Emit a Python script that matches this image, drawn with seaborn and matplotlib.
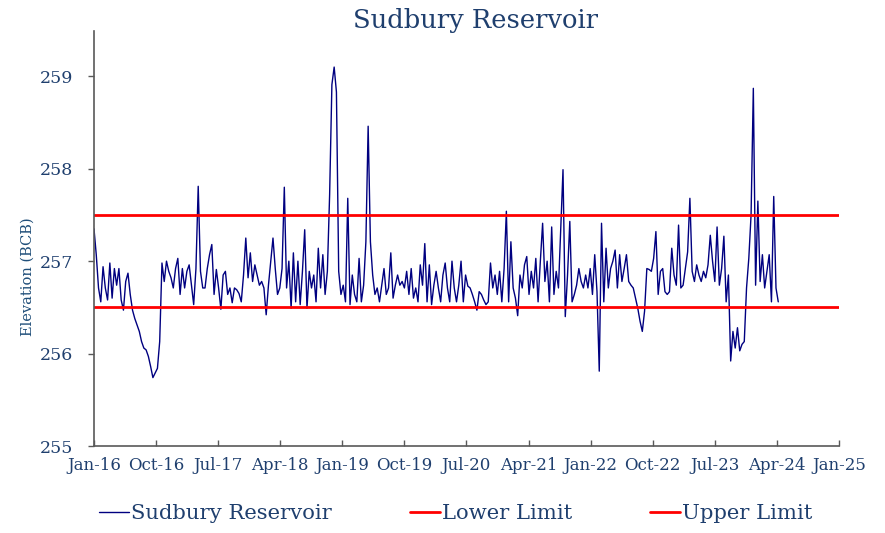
import numpy as np
import pandas as pd
import matplotlib
matplotlib.use("Agg")
import matplotlib.pyplot as plt
import seaborn as sns

# ── Data (one value every 10 days from Jan-16) ─────────────────────────────────
start_date = "2016-01-01"
elev = [
    257.35, 257.07, 256.71, 256.56, 256.94, 256.71, 256.58, 256.98, 256.60, 256.92,
    256.74, 256.92, 256.58, 256.47, 256.78, 256.87, 256.64, 256.47, 256.38, 256.31,
    256.24, 256.13, 256.06, 256.04, 255.97, 255.86, 255.74, 255.79, 255.84, 256.13,
    256.98, 256.78, 257.00, 256.89, 256.82, 256.71, 256.92, 257.03, 256.64, 256.92,
    256.71, 256.89, 256.96, 256.74, 256.53, 256.92, 257.81, 256.89, 256.71, 256.71,
    256.92, 257.07, 257.18, 256.64, 256.91, 256.71, 256.48, 256.85, 256.89, 256.64,
    256.71, 256.55, 256.71, 256.69, 256.65, 256.56, 256.85, 257.25, 256.82, 257.09,
    256.78, 256.96, 256.85, 256.74, 256.78, 256.71, 256.42, 256.74, 257.00, 257.25,
    256.92, 256.64, 256.71, 256.92, 257.80, 256.71, 257.00, 256.49, 257.09, 256.56,
    257.00, 256.53, 256.89, 257.34, 256.49, 256.89, 256.71, 256.85, 256.56, 257.14,
    256.71, 257.07, 256.64, 256.89, 257.72, 258.91, 259.10, 258.83, 256.89, 256.64,
    256.74, 256.56, 257.68, 256.53, 256.85, 256.64, 256.56, 257.03, 256.56, 256.74,
    257.21, 258.46, 257.21, 256.85, 256.64, 256.71, 256.56, 256.74, 256.92, 256.64,
    256.71, 257.09, 256.60, 256.74, 256.85, 256.74, 256.78, 256.71, 256.89, 256.64,
    256.92, 256.60, 256.71, 256.56, 256.96, 256.74, 257.19, 256.56, 256.96, 256.53,
    256.74, 256.89, 256.71, 256.56, 256.85, 256.98, 256.71, 256.56, 257.00, 256.71,
    256.56, 256.74, 257.00, 256.56, 256.85, 256.73, 256.71, 256.64, 256.56, 256.47,
    256.67, 256.64, 256.58, 256.53, 256.56, 256.98, 256.71, 256.85, 256.64, 256.89,
    256.56, 256.92, 257.54, 256.56, 257.21, 256.71, 256.60, 256.41, 256.85, 256.71,
    256.96, 257.05, 256.64, 256.89, 256.71, 257.03, 256.56, 257.00, 257.41, 256.78,
    257.00, 256.56, 257.37, 256.64, 256.89, 256.71, 257.36, 257.99, 256.40, 256.85,
    257.43, 256.56, 256.64, 256.74, 256.92, 256.78, 256.71, 256.85, 256.71, 256.92,
    256.64, 257.07, 256.67, 255.81, 257.41, 256.56, 257.14, 256.71, 256.92, 257.00,
    257.12, 256.71, 257.07, 256.78, 256.92, 257.07, 256.78, 256.74, 256.71, 256.60,
    256.49, 256.35, 256.24, 256.46, 256.92, 256.91, 256.89, 257.03, 257.32, 256.64,
    256.89, 256.92, 256.67, 256.64, 256.67, 257.14, 256.85, 256.74, 257.39, 256.71,
    256.74, 256.92, 257.10, 257.68, 256.89, 256.78, 256.96, 256.85, 256.78, 256.89,
    256.82, 256.96, 257.28, 257.00, 256.78, 257.37, 256.74, 256.92, 257.27, 256.56,
    256.85, 255.92, 256.24, 256.06, 256.28, 256.03, 256.10, 256.13, 256.71, 257.03,
    257.50, 258.87, 256.74, 257.65, 256.78, 257.07, 256.71, 256.89, 257.07, 256.56,
    257.70, 256.71, 256.56,
]
lower_limit = 256.5
upper_limit = 257.5
series_names = ["Sudbury Reservoir", "Lower Limit", "Upper Limit"]

# ── Style ──────────────────────────────────────────────────────────────────────
TEXT_COLOR = "#1F3F6E"
LABEL_COLOR = "#1F4E79"
LINE_COLOR = "#000080"
LIMIT_COLOR = "#FF0000"
SPINE_COLOR = "#595959"

sns.set_style("white")
plt.rcParams["font.family"] = ["DejaVu Serif"]

dates = pd.date_range(start_date, periods=len(elev), freq="10D")
df = pd.DataFrame({"date": dates, "elevation": elev})

fig = plt.figure(figsize=(8.85, 5.33), dpi=100)
ax = fig.add_axes([0.1062, 0.1632, 0.8418, 0.7786])

sns.lineplot(data=df, x="date", y="elevation", ax=ax, color=LINE_COLOR,
             linewidth=1.0, estimator=None, label=series_names[0])
ax.axhline(lower_limit, color=LIMIT_COLOR, linewidth=2, label=series_names[1])
ax.axhline(upper_limit, color=LIMIT_COLOR, linewidth=2, label=series_names[2])

# x axis: evenly spaced 274-day steps, like the spreadsheet's date axis
t0 = pd.Timestamp(start_date)
tick_dates = [t0 + pd.Timedelta(days=274 * k) for k in range(13)]
ax.set_xlim(tick_dates[0], tick_dates[-1])
ax.set_xticks(tick_dates)
ax.set_xticklabels([d.strftime("%b-%y") for d in tick_dates])

ax.set_ylim(255, 259.49)
ax.set_yticks([255, 256, 257, 258, 259])

ax.set_xlabel("")
ax.set_ylabel("Elevation (BCB)", fontsize=10.5, color=LABEL_COLOR)
ax.yaxis.set_label_coords(-0.08, 0.408)

ax.tick_params(axis="x", direction="in", length=4, width=1, colors=SPINE_COLOR,
               labelcolor=TEXT_COLOR, labelsize=12, pad=8)
ax.tick_params(axis="y", direction="out", length=4, width=1, colors=SPINE_COLOR,
               labelcolor=TEXT_COLOR, labelsize=12.5, pad=11)
ax.tick_params(left=True, bottom=True)

for side in ["top", "right"]:
    ax.spines[side].set_visible(False)
for side in ["left", "bottom"]:
    ax.spines[side].set_color(SPINE_COLOR)
    ax.spines[side].set_linewidth(1.2)

fig.text(0.537, 0.962, "Sudbury Reservoir", ha="center", va="center",
         fontsize=18.5, color=TEXT_COLOR)

handles, labels = ax.get_legend_handles_labels()
ax.get_legend().remove()
fig.legend(handles, labels, loc="center", bbox_to_anchor=(0.515, 0.036),
           ncol=3, frameon=False, fontsize=15.2, labelcolor=TEXT_COLOR,
           handlelength=1.4, handletextpad=0.1, columnspacing=3.7)

fig.savefig("out.png", dpi=100)
